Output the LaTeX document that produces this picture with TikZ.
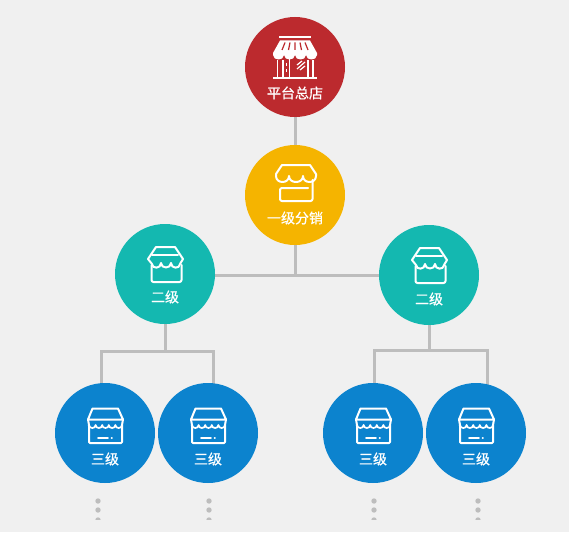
\documentclass[tikz,border=0pt]{standalone}
\usepackage{fontspec}
\setmainfont{Noto Sans CJK SC}[FakeBold=0.6]
\usetikzlibrary{backgrounds}
\definecolor{bgc}{HTML}{F0F0F0}
\definecolor{linec}{HTML}{BDBDBD}
\definecolor{redc}{HTML}{BC2A2E}
\definecolor{yelc}{HTML}{F5B400}
\definecolor{tealc}{HTML}{14B8B0}
\definecolor{bluc}{HTML}{0C83CE}
\tikzset{
 x=1pt,y=-1pt,
 disc/.style={circle,minimum size=100pt,inner sep=0pt,draw=none},
 cap text/.style={text=white,font=\fontsize{14}{14}\selectfont,inner sep=0pt},
 conn/.style={draw=linec,line width=3pt},
 ico/.style={draw=white,line width=2pt,line join=round,line cap=round,fill=none},
 moredot/.style={fill=linec,draw=none},
}
\begin{document}
\begin{tikzpicture}
\useasboundingbox (0,0) rectangle (569,532);
\node[disc,fill=redc] (top) at (295,67) {};
\node[disc,fill=yelc] (first) at (295,195) {};
\node[disc,fill=tealc] (sl) at (165,274) {};
\node[disc,fill=tealc] (sr) at (429,275) {};
\node[disc,fill=bluc] (ta) at (105,433) {};
\node[disc,fill=bluc] (tb) at (208,433) {};
\node[disc,fill=bluc] (tc) at (373,433) {};
\node[disc,fill=bluc] (td) at (476,433) {};
\coordinate (jm) at (295,275);
\coordinate (jl) at (165,351);
\coordinate (jr) at (429,350);
\coordinate (la) at (101,351);
\coordinate (lb) at (213,351);
\coordinate (lc) at (374,350);
\coordinate (ld) at (487,350);
\coordinate (ea) at (101,395);
\coordinate (eb) at (213,395);
\coordinate (ec) at (374,395);
\coordinate (ed) at (487,395);
\begin{scope}[on background layer]
\fill[bgc] (0,0) rectangle (569,532);
\draw[conn] (top.center)--(first.center);
\draw[conn] (first.center)--(jm);
\draw[conn] (sl.center |- jm)--(sr.center |- jm);
\draw[conn] (sl.center)--(jl);
\draw[conn] (sr.center)--(jr);
\draw[conn,line cap=rect] (ea)--(la)--(lb)--(eb);
\draw[conn,line cap=rect] (ec)--(lc)--(ld)--(ed);
\end{scope}
% top icon
\begin{scope}[shift={(295,67)}]
 \fill[white] (-16,-30.5) rectangle (16,-28.5);
 \fill[white] (-15,-26.5) -- (15,-26.5) -- (22,-14) -- (22,-12)
   .. controls (22,-6) and (11,-6) .. (11,-12)
   .. controls (11,-6) and (0,-6) .. (0,-12)
   .. controls (0,-6) and (-11,-6) .. (-11,-12)
   .. controls (-11,-6) and (-22,-6) .. (-22,-12)
   -- (-22,-14) -- cycle;
 \draw[redc,line width=1.2pt] (-10,-24.5)--(-13,-17) (-5,-24.5)--(-6.5,-17) (0,-24.5)--(0,-17) (5,-24.5)--(6.5,-17) (10,-24.5)--(13,-17);
 \draw[white,line width=1.6pt] (-16,-14.5)--(16,-14.5);
 \draw[white,line width=2pt] (-22,11)--(22,11);
 \draw[white,line width=1.7pt] (-17.5,-7)--(-17.5,11) (-12,-7)--(-12,11) (18,-7)--(18,11) (13,-7)--(13,11);
 \draw[white,line width=1.5pt] (-5.5,-8)--(-5.5,11);
 \draw[white,line width=1.3pt] (-8.5,-4)--(-8.5,-1) (-8.5,2)--(-8.5,5);
 \draw[white,line width=1.2pt] (2,-2)--(7,-6) (2,2)--(10,-5) (5,3)--(10,-1);
\end{scope}
\node[cap text] (tl1) at (295,93) {平台总店};
% first icon
\begin{scope}[shift={(295,195)}]
 \draw[ico] (-13,-30)--(15,-30)--(21,-21) -- (21,-19)
   .. controls (21,-11) and (8,-11) .. (8,-19)
   .. controls (8,-11) and (-6,-11) .. (-6,-19)
   .. controls (-6,-11) and (-19,-11) .. (-19,-19)
   -- (-19,-21) -- cycle;
 \draw[ico,rounded corners=2pt] (13,-7)--(-15,-7)--(-15,6)--(17.5,6)--(17.5,-15);
\end{scope}
\node[cap text] (tl2) at (295,218) {一级分销};
% second-level
\foreach \cx/\cy in {165/274,429/275}{
\begin{scope}[shift={(\cx,\cy)}]
 \draw[ico] (-9,-27)--(10,-27)--(18,-15)--(15,-10)
   .. controls (15,-5) and (6,-5) .. (6,-11)
   .. controls (6,-5) and (-4,-5) .. (-4,-11)
   .. controls (-4,-5) and (-13,-5) .. (-13,-10)
   -- (-17,-15) -- cycle;
 \draw[ico] (-13,-19)--(13,-19);
 \draw[ico,rounded corners=2pt] (-13.5,-9)--(-13.5,8)--(16.5,8)--(16.5,-9);
\end{scope}}
\node[cap text] (tl3) at (165,297) {二级};
\node[cap text] (tl4) at (429,299) {二级};
% third-level
\foreach \cx in {105,208,373,476}{
\begin{scope}[shift={(\cx,433)}]
 \draw[ico] (-12.5,-24.5)--(13,-24.5)--(18,-13.5)--(-17,-13.5)--cycle;
 \draw[ico,rounded corners=1pt] (-17,-13.5)--(-16,-8)--(-16,10)--(17,10)--(17,-8)--(18,-13.5);
 \draw[ico,line width=1.7pt] (17,-8)
   .. controls (17,-4) and (10.4,-4) .. (10.4,-8)
   .. controls (10.4,-4) and (3.8,-4) .. (3.8,-8)
   .. controls (3.8,-4) and (-2.8,-4) .. (-2.8,-8)
   .. controls (-2.8,-4) and (-9.4,-4) .. (-9.4,-8)
   .. controls (-9.4,-4) and (-16,-4) .. (-16,-8);
 \draw[ico,line width=1.6pt] (-7,5)--(3,5) (6.5,5)--(7,5);
\end{scope}}
\node[cap text] (tl5) at (105,459) {三级};
\node[cap text] (tl6) at (208,459) {三级};
\node[cap text] (tl7) at (373,459) {三级};
\node[cap text] (tl8) at (476,459) {三级};
% continuation dots
\begin{scope}
 \clip (0,0) rectangle (569,519);
 \foreach \dx in {98,209,374,478}{
  \foreach \dy in {501,510,520}{
   \fill[moredot] (\dx,\dy) circle[radius=2.7];
  }}
\end{scope}
\end{tikzpicture}
\end{document}
